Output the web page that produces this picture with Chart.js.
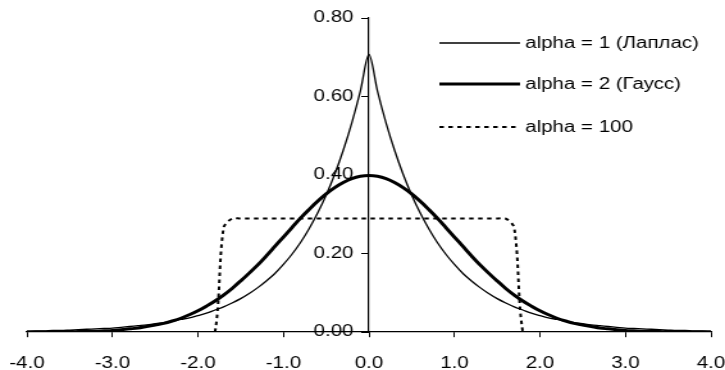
<!DOCTYPE html>
<html>
<head>
<meta charset="utf-8">
<script src="https://cdn.jsdelivr.net/npm/chart.js@4"></script>
<style>
  html, body { margin: 0; padding: 0; background: #fff; }
</style>
</head>
<body>
<!-- the picture is stretched horizontally, so the canvas is too -->
<canvas id="chart" width="566" height="370" style="display:block;width:725px;height:370px"></canvas>
<script>
// x positions of the samples
const xValues = [
  -4.0, -3.9, -3.8, -3.7, -3.6, -3.5, -3.4, -3.3, -3.2, -3.1,
  -3.0, -2.9, -2.8, -2.7, -2.6, -2.5, -2.4, -2.3, -2.2, -2.1,
  -2.0, -1.9, -1.8, -1.7, -1.6, -1.5, -1.4, -1.3, -1.2, -1.1,
  -1.0, -0.9, -0.8, -0.7, -0.6, -0.5, -0.4, -0.3, -0.2, -0.1,
  0.0,
  0.1, 0.2, 0.3, 0.4, 0.5, 0.6, 0.7, 0.8, 0.9, 1.0,
  1.1, 1.2, 1.3, 1.4, 1.5, 1.6, 1.7, 1.8, 1.9, 2.0,
  2.1, 2.2, 2.3, 2.4, 2.5, 2.6, 2.7, 2.8, 2.9, 3.0,
  3.1, 3.2, 3.3, 3.4, 3.5, 3.6, 3.7, 3.8, 3.9, 4.0
];

// alpha = 1 (Laplace)
const laplace = [
  0.002, 0.003, 0.003, 0.004, 0.004, 0.005, 0.006, 0.007, 0.008, 0.009,
  0.010, 0.012, 0.014, 0.016, 0.018, 0.021, 0.024, 0.027, 0.032, 0.036,
  0.042, 0.048, 0.056, 0.064, 0.074, 0.085, 0.098, 0.113, 0.130, 0.149,
  0.172, 0.198, 0.228, 0.263, 0.303, 0.349, 0.402, 0.463, 0.533, 0.614,
  0.707,
  0.614, 0.533, 0.463, 0.402, 0.349, 0.303, 0.263, 0.228, 0.198, 0.172,
  0.149, 0.130, 0.113, 0.098, 0.085, 0.074, 0.064, 0.056, 0.048, 0.042,
  0.036, 0.032, 0.027, 0.024, 0.021, 0.018, 0.016, 0.014, 0.012, 0.010,
  0.009, 0.008, 0.007, 0.006, 0.005, 0.004, 0.004, 0.003, 0.003, 0.002
];

// alpha = 2 (Gauss)
const gauss = [
  0.000, 0.000, 0.000, 0.000, 0.001, 0.001, 0.001, 0.002, 0.002, 0.003,
  0.004, 0.006, 0.008, 0.010, 0.014, 0.018, 0.022, 0.028, 0.035, 0.044,
  0.054, 0.066, 0.079, 0.094, 0.111, 0.130, 0.150, 0.171, 0.194, 0.218,
  0.242, 0.266, 0.290, 0.312, 0.333, 0.352, 0.368, 0.381, 0.391, 0.397,
  0.399,
  0.397, 0.391, 0.381, 0.368, 0.352, 0.333, 0.312, 0.290, 0.266, 0.242,
  0.218, 0.194, 0.171, 0.150, 0.130, 0.111, 0.094, 0.079, 0.066, 0.054,
  0.044, 0.035, 0.028, 0.022, 0.018, 0.014, 0.010, 0.008, 0.006, 0.004,
  0.003, 0.002, 0.002, 0.001, 0.001, 0.001, 0.000, 0.000, 0.000, 0.000
];

// alpha = 100 (almost flat)
const alpha100 = [
  0, 0, 0, 0, 0, 0, 0, 0, 0, 0,
  0, 0, 0, 0, 0, 0, 0, 0, 0, 0,
  0, 0, 0, 0.265, 0.289, 0.289, 0.289, 0.289, 0.289, 0.289,
  0.289, 0.289, 0.289, 0.289, 0.289, 0.289, 0.289, 0.289, 0.289, 0.289,
  0.289,
  0.289, 0.289, 0.289, 0.289, 0.289, 0.289, 0.289, 0.289, 0.289, 0.289,
  0.289, 0.289, 0.289, 0.289, 0.289, 0.289, 0.265, 0, 0, 0,
  0, 0, 0, 0, 0, 0, 0, 0, 0, 0,
  0, 0, 0, 0, 0, 0, 0, 0, 0, 0
];

const seriesLabels = ['alpha = 1 (Лаплас)', 'alpha = 2 (Гаусс)', 'alpha = 100'];
const xTicks = [-4, -3, -2, -1, 0, 1, 2, 3, 4];
const yTicks = [0, 0.2, 0.4, 0.6, 0.8];

Chart.defaults.font.family = '"Liberation Sans", Arial, sans-serif';
Chart.defaults.font.size = 16;
Chart.defaults.color = '#000';

function points(ys) {
  return xValues.map((x, i) => ({ x: x, y: ys[i] }));
}

// legend drawn inside the plot, top right
const insideLegend = {
  id: 'insideLegend',
  afterDraw(chart) {
    const ctx = chart.ctx;
    const rows = [43, 84, 127];
    ctx.save();
    chart.data.datasets.forEach((ds, i) => {
      ctx.beginPath();
      ctx.strokeStyle = ds.borderColor;
      ctx.lineWidth = ds.borderWidth;
      ctx.setLineDash(ds.borderDash || []);
      ctx.moveTo(343, rows[i]);
      ctx.lineTo(406, rows[i]);
      ctx.stroke();
      ctx.setLineDash([]);
      ctx.fillStyle = '#000';
      ctx.font = '16px "Liberation Sans", Arial, sans-serif';
      ctx.textBaseline = 'middle';
      ctx.textAlign = 'left';
      ctx.fillText(ds.label, 410, rows[i] + 1);
    });
    ctx.restore();
  }
};

const ctx = document.getElementById('chart').getContext('2d');

new Chart(ctx, {
  type: 'line',
  data: {
    datasets: [
      {
        label: seriesLabels[0],
        data: points(laplace),
        borderColor: '#000',
        borderWidth: 1.3,
        pointRadius: 0,
        tension: 0.33
      },
      {
        label: seriesLabels[1],
        data: points(gauss),
        borderColor: '#000',
        borderWidth: 3,
        pointRadius: 0,
        tension: 0.33
      },
      {
        label: seriesLabels[2],
        data: points(alpha100),
        borderColor: '#000',
        borderWidth: 2,
        borderDash: [3.5, 3.5],
        pointRadius: 0,
        tension: 0.33
      }
    ]
  },
  options: {
    responsive: false,
    animation: false,
    devicePixelRatio: 1,
    layout: {
      padding: { left: 21, right: 11, top: 18, bottom: 38 }
    },
    plugins: {
      legend: { display: false },
      tooltip: { enabled: false }
    },
    scales: {
      x: {
        type: 'linear',
        position: { y: 0 },
        min: -4,
        max: 4,
        afterBuildTicks: scale => { scale.ticks = xTicks.map(v => ({ value: v })); },
        // labels may hang over the plot edges, padding is set by hand
        afterFit: scale => { scale.paddingLeft = 0; scale.paddingRight = 0; },
        grid: { drawOnChartArea: false, drawTicks: true, tickLength: 5, color: '#000' },
        border: { display: true, color: '#000', width: 1.2 },
        ticks: {
          padding: 17,
          maxRotation: 0,
          callback: v => v.toFixed(1)
        }
      },
      y: {
        type: 'linear',
        position: 'center',
        min: 0,
        max: 0.8,
        afterBuildTicks: scale => { scale.ticks = yTicks.map(v => ({ value: v })); },
        grid: { drawOnChartArea: false, drawTicks: true, tickLength: 5, color: '#000' },
        border: { display: true, color: '#000', width: 1.2 },
        ticks: {
          padding: 7,
          callback: v => v.toFixed(2)
        }
      }
    }
  },
  plugins: [insideLegend]
});
</script>
</body>
</html>
